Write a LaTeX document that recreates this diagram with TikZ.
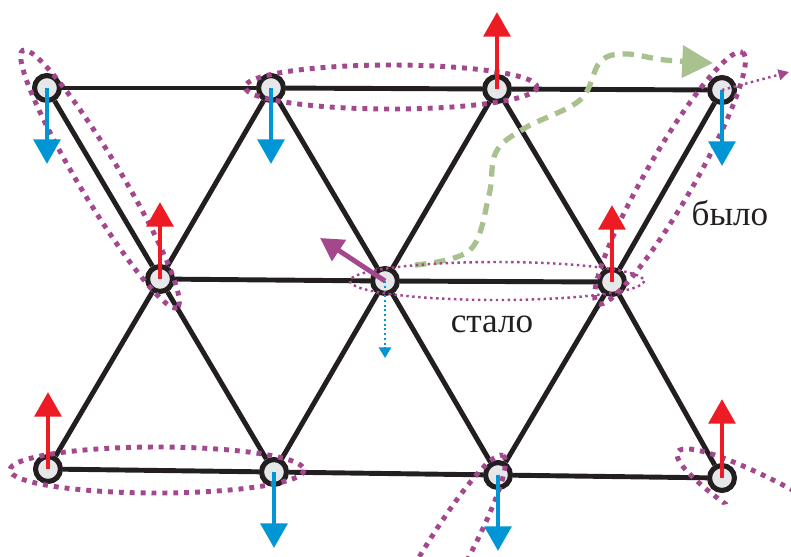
\documentclass[tikz,border=0pt]{standalone}
\usepackage{fontspec}
\setmainfont{Liberation Serif}
\usepackage{xcolor}
\usetikzlibrary{arrows.meta}

\definecolor{ink}{HTML}{231F20}
\definecolor{sitefill}{HTML}{E6E7E8}
\definecolor{spinred}{HTML}{ED1C24}
\definecolor{spinblue}{HTML}{0096D6}
\definecolor{loopcol}{HTML}{A3488D}
\definecolor{pathcol}{HTML}{A9C08F}

\begin{document}
\begin{tikzpicture}[x=0.02cm,y=-0.02cm,
    site/.style={circle,draw=ink,fill=sitefill,line width=2.9pt,minimum size=14.2pt,inner sep=0pt},
    bond/.style={draw=ink,line width=2.8pt},
    upspin/.style={spinred,line width=2.8pt,-{Triangle[length=14pt,width=15pt]}},
    downspin/.style={spinblue,line width=2.8pt,-{Triangle[length=14pt,width=15pt]}},
    loopline/.style={loopcol,line width=2.8pt,dash pattern=on 2.8pt off 3.4pt},
    thinloop/.style={loopcol,line width=1.4pt,dash pattern=on 1.4pt off 2pt},
    lbl/.style={font=\fontsize{20}{22}\selectfont,text=ink,inner sep=0pt}]
    \useasboundingbox (0,0) rectangle (791,556);
            % lattice sites
            \node[site](a1) at (47,88) {};
            \node[site](a2) at (271,88) {};
            \node[site](a3) at (497,89) {};
            \node[site](a4) at (722,90) {};
            \node[site](b1) at (160,279) {};
            \node[site](b2) at (385,281) {};
            \node[site](b3) at (612,282) {};
            \node[site](c1) at (48,469) {};
            \node[site](c2) at (274,472) {};
            \node[site](c3) at (498,475) {};
            \node[site](c4) at (722,478) {};
            % bonds
            \draw[bond] (a1) -- (a2);
            \draw[bond] (a2) -- (a3);
            \draw[bond] (a3) -- (a4);
            \draw[bond] (b1) -- (b2);
            \draw[bond] (b2) -- (b3);
            \draw[bond] (c1) -- (c2);
            \draw[bond] (c2) -- (c3);
            \draw[bond] (c3) -- (c4);
            \draw[bond] (a1) -- (b1);
            \draw[bond] (a2) -- (b1);
            \draw[bond] (a2) -- (b2);
            \draw[bond] (a3) -- (b2);
            \draw[bond] (a3) -- (b3);
            \draw[bond] (a4) -- (b3);
            \draw[bond] (b1) -- (c1);
            \draw[bond] (b1) -- (c2);
            \draw[bond] (b2) -- (c2);
            \draw[bond] (b2) -- (c3);
            \draw[bond] (b3) -- (c3);
            \draw[bond] (b3) -- (c4);
            % path of the hole
            \draw[pathcol,line width=3pt,dash pattern=on 6.5pt off 4.5pt,
                  -{Triangle[length=17.5pt,width=18pt]}]
                plot[smooth,tension=0.6] coordinates {(415,265) (470,250) (489,195) (496,152)
                    (525,128) (580,100) (600,62) (625,54) (665,60) (713,63)};
            % loops
            \draw[loopline,rotate around={-59:(100,179)}] (100,179) ellipse [x radius=150, y radius=21];
            \draw[loopline] (391,87) ellipse [x radius=146, y radius=22];
            \draw[loopline,rotate around={60:(670,178)}] (670,178) ellipse [x radius=145, y radius=24];
            \draw[thinloop] (497,281) ellipse [x radius=147, y radius=19];
            \draw[loopline] (157,470) ellipse [x radius=147, y radius=23];
            \begin{scope}
                \clip (0,0) rectangle (791,556);
                \draw[loopline,rotate around={60:(430,582)}] (430,582) ellipse [x radius=146, y radius=22];
            \end{scope}
            \begin{scope}
                \clip (640,400) -- (791,400) -- (791,492) -- (717,506) -- (640,520) -- cycle;
                \draw[loopline,rotate around={-30:(804,525)}] (804,525) ellipse [x radius=146, y radius=25];
            \end{scope}
            % spins
            \draw[downspin] (a1.center) -- ++(0,76);
            \draw[downspin] (a2.center) -- ++(0,76);
            \draw[downspin] (a4.center) -- ++(0,76);
            \draw[downspin] (c2.center) -- ++(0,76);
            \draw[downspin] (c3.center) -- ++(0,76);
            \draw[upspin] (a3.center) -- ++(0,-77);
            \draw[upspin] (b1.center) -- ++(0,-77);
            \draw[upspin] (b3.center) -- ++(0,-77);
            \draw[upspin] (c1.center) -- ++(0,-77);
            \draw[upspin] (c4.center) -- ++(0,-79);
            % moved spin
            \coordinate (hop) at (320,238);
            \coordinate (old) at (385,358);
            \coordinate (out) at (789,72);
            \draw[loopcol,line width=2.8pt,-{Triangle[length=13pt,width=14pt]}] (b2.center) -- (hop);
            \draw[spinblue,line width=1.1pt,dash pattern=on 1.1pt off 1.6pt,-{Triangle[length=6pt,width=7pt]}] (b2.center) -- (old);
            \draw[thinloop,-{Triangle[length=6pt,width=6pt]}] (a4.center) -- (out);
            % labels
            \node[lbl,anchor=base](was) at (730,225) {было};
            \node[lbl,anchor=base](now) at (492,332) {стало};
        \end{tikzpicture}
\end{document}
